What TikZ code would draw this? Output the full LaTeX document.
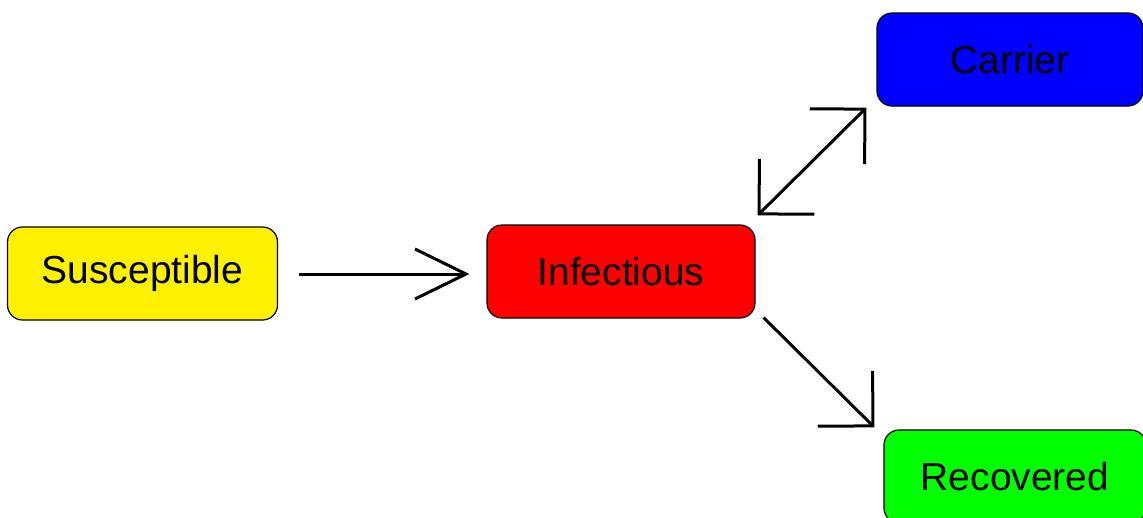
\documentclass[tikz,border=0pt]{standalone}
\usepackage{fontspec}
\setmainfont{Liberation Sans}
\usetikzlibrary{arrows.meta,calc}

\tikzset{
  state/.style={draw=black, line width=1.2pt, rounded corners=15pt,
    minimum height=93pt, inner sep=0pt,
    font=\fontsize{39}{46}\selectfont, text=black},
  flow/.style={line width=3pt, line cap=butt},
  straighthead/.tip={Straight Barb[length=51pt, width=50pt, line width=3pt]},
  diaghead/.tip={Straight Barb[length=39pt, width=78pt, line width=3pt]},
}

\begin{document}
\begin{tikzpicture}[x=1pt, y=-1pt]
  \useasboundingbox (0,0) rectangle (1143,517);

  % compartments of the model
  \node[state, fill=yellow, minimum width=270pt] (S) at (142.5,273.5) {Susceptible};
  \node[state, fill=red,    minimum width=268pt] (I) at (621,271.5) {Infectious};
  \node[state, fill=blue,   minimum width=266pt] (C) at (1010,59.5) {Carrier};
  \node[state, fill=green,  minimum width=262pt] (R) at (1015,476.5) {Recovered};

  % transitions
  \draw[flow, -straighthead] ($(S.east)+(21,0.5)$) -- ($(I.west)+(-17,2.5)$);
  \draw[flow, diaghead-diaghead] ($(I.north east)+(2,-9)$) -- ($(C.south west)+(-10,1)$);
  \draw[flow, -diaghead] ($(I.south east)+(8,-1)$) -- ($(R.north west)+(-9,-2)$);
\end{tikzpicture}
\end{document}
